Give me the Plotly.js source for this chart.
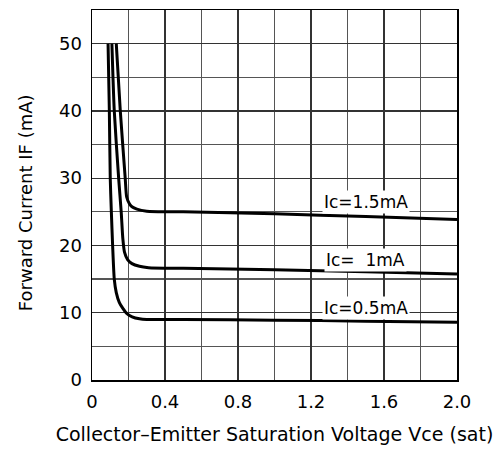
<!DOCTYPE html>
<html>
<head>
<meta charset="utf-8">
<script src="https://cdn.plot.ly/plotly-3.0.1.min.js"></script>
<style>html,body{margin:0;padding:0;background:#fff;}#chart{width:500px;height:450px;}</style>
</head>
<body>
<div id="chart"></div>
<script>
var x05 = [0.088, 0.095, 0.100, 0.106, 0.113, 0.122, 0.133, 0.150, 0.170, 0.190, 0.220, 0.260, 0.300, 0.500, 1.000, 1.500, 2.000];
var y05 = [50, 40, 30, 25, 20, 15, 13, 11.5, 10.6, 9.9, 9.4, 9.1, 9.0, 9.0, 8.9, 8.75, 8.6];
var x10 = [0.109, 0.122, 0.146, 0.160, 0.169, 0.178, 0.195, 0.219, 0.260, 0.310, 0.500, 1.000, 1.500, 2.000];
var y10 = [50, 40, 30, 25, 21, 19.0, 17.9, 17.3, 16.9, 16.7, 16.6, 16.4, 16.1, 15.75];
var x15 = [0.133, 0.155, 0.182, 0.190, 0.205, 0.219, 0.246, 0.300, 0.500, 1.000, 1.500, 2.000];
var y15 = [50, 40, 30, 27.2, 26.2, 25.75, 25.4, 25.1, 25.0, 24.7, 24.3, 23.85];
var seriesLabels = ["Ic=0.5mA", "Ic=  1mA", "Ic=1.5mA"];
var labelX = [1.50, 1.50, 1.50];
var labelY = [10.65, 17.8, 26.5];
var xTicks = [0, 0.4, 0.8, 1.2, 1.6, 2.0];
var xTickText = ["0", "0.4", "0.8", "1.2", "1.6", "2.0"];
var yTicks = [0, 10, 20, 30, 40, 50];
var yTitle = "Forward Current IF (mA)";
var xTitle = "Collector\u2013Emitter Saturation Voltage Vce (sat)";

var FONT = "DejaVu Sans, Liberation Sans, sans-serif";
function line(x, y, name) {
  return {x: x, y: y, name: name, mode: "lines", type: "scatter",
    line: {color: "#000", width: 3, shape: "spline", smoothing: 0.6},
    hoverinfo: "skip", showlegend: false};
}
var data = [line(x05, y05, seriesLabels[0]), line(x10, y10, seriesLabels[1]), line(x15, y15, seriesLabels[2])];
var annotations = seriesLabels.map(function (t, i) {
  return {x: labelX[i], y: labelY[i], xref: "x", yref: "y", text: t, showarrow: false,
    font: {family: FONT, size: 17, color: "#000"}, bgcolor: "#fff", borderpad: 1};
});
annotations.push({xref: "paper", yref: "paper", x: 0, y: 0.478, xanchor: "center", yanchor: "middle",
  xshift: -67, textangle: -90, text: yTitle, showarrow: false, font: {family: FONT, size: 18, color: "#000"}});
var layout = {
  width: 500, height: 450,
  margin: {l: 92, r: 43, t: 10, b: 70},
  paper_bgcolor: "#fff", plot_bgcolor: "#fff",
  font: {family: FONT, size: 18, color: "#000"},
  xaxis: {range: [0, 2.0], tickvals: xTicks, ticktext: xTickText, showgrid: true, gridcolor: "#333", gridwidth: 1.2,
    minor: {dtick: 0.2, tick0: 0, showgrid: true, gridcolor: "#555", gridwidth: 1.2},
    zeroline: false, showline: true, linecolor: "#000", linewidth: 1.5, mirror: true, ticks: "",
    tickfont: {family: FONT, size: 18}, ticklabelstandoff: 5,
    title: {text: xTitle, font: {family: FONT, size: 19}, standoff: 16}},
  yaxis: {range: [0, 55], tickvals: yTicks, showgrid: true, gridcolor: "#333", gridwidth: 1.2,
    minor: {dtick: 5, tick0: 0, showgrid: true, gridcolor: "#555", gridwidth: 1.2},
    zeroline: false, showline: true, linecolor: "#000", linewidth: 1.5, mirror: true, ticks: "",
    tickfont: {family: FONT, size: 18}, ticklabelstandoff: 5},
  annotations: annotations
};
Plotly.newPlot("chart", data, layout, {staticPlot: true, displayModeBar: false});
</script>
</body>
</html>
